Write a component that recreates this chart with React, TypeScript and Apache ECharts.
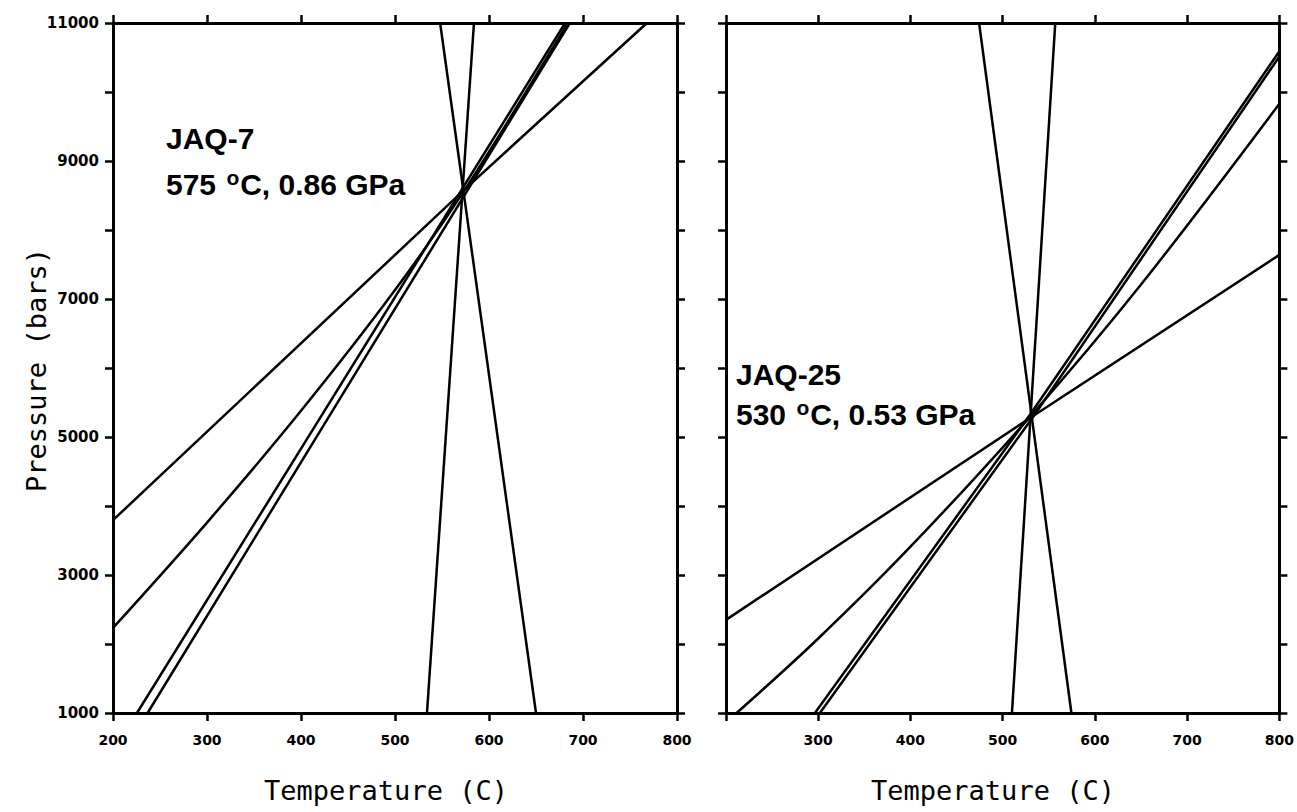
import React, { useEffect, useRef } from "react";
import * as echarts from "echarts";

// ---- Data (Temperature °C, Pressure bars) ----
const xTicks = [200, 300, 400, 500, 600, 700, 800];
const yTickLabels = [1000, 3000, 5000, 7000, 9000, 11000];

// Left panel: JAQ-7
const jaq7LineA = [[200, 3795], [575, 8600], [768, 11000]];
const jaq7LineB = [[200, 2233], [300, 3760], [400, 5380], [500, 7130], [575, 8600], [684, 11000]];
const jaq7LineC = [[225.5, 1000], [681, 11000]];
const jaq7LineD = [[236.8, 1000], [686, 11000]];
const jaq7LineE = [[534, 1000], [584, 11000]];
const jaq7LineF = [[650, 1000], [548, 11000]];

// Right panel: JAQ-25
const jaq25Line1 = [[200, 2350], [530, 5280], [800, 7640]];
const jaq25Line2 = [[211.5, 1000], [300, 2080], [400, 3410], [530, 5300], [650, 7210], [800, 9830]];
const jaq25Line3 = [[296.4, 1000], [530, 5330], [800, 10590]];
const jaq25Line4 = [[301.8, 1000], [535, 5330], [800, 10515]];
const jaq25Line5 = [[510, 1000], [557, 11000]];
const jaq25Line6 = [[574.5, 1000], [474.4, 11000]];

const leftLines = [jaq7LineA, jaq7LineB, jaq7LineC, jaq7LineD, jaq7LineE, jaq7LineF];
const rightLines = [jaq25Line1, jaq25Line2, jaq25Line3, jaq25Line4, jaq25Line5, jaq25Line6];
const curvedLines = [jaq7LineB, jaq25Line2];

const panelLabels = [
  { name: "JAQ-7", cond: "575 {s|o}C, 0.86 GPa" },
  { name: "JAQ-25", cond: "530 {s|o}C, 0.53 GPa" },
];

const BLACK = "#000";
const tickFont = "DejaVu Sans";

function makeAxes(g: number, showX200: boolean, showY: boolean) {
  const common = {
    gridIndex: g,
    type: "value" as const,
    splitLine: { show: false },
    axisLine: { show: true, onZero: false, lineStyle: { color: BLACK, width: 3 } },
    axisTick: { show: true, inside: false, length: 8, lineStyle: { color: BLACK, width: 2.5 } },
  };
  const xBottom = {
    ...common,
    position: "bottom",
    min: 200,
    max: 800,
    interval: 100,
    axisLabel: {
      show: true,
      margin: 20,
      color: BLACK,
      fontFamily: tickFont,
      fontWeight: "bold",
      fontSize: 14,
      formatter: (v: number) => (xTicks.includes(v) && (showX200 || v !== 200) ? String(v) : ""),
    },
  };
  const xTop = { ...common, position: "top", min: 200, max: 800, interval: 100, axisLabel: { show: false } };
  const yLeft = {
    ...common,
    position: "left",
    min: 1000,
    max: 11000,
    interval: 1000,
    axisLabel: {
      show: showY,
      margin: 14,
      color: BLACK,
      fontFamily: tickFont,
      fontWeight: "bold",
      fontSize: 15,
      formatter: (v: number) => (yTickLabels.includes(v) ? String(v) : ""),
    },
  };
  const yRight = { ...common, position: "right", min: 1000, max: 11000, interval: 1000, axisLabel: { show: false } };
  return { x: [xBottom, xTop], y: [yLeft, yRight] };
}

export default function App() {
  const ref = useRef<HTMLDivElement>(null);
  useEffect(() => {
    if (!ref.current) return;
    const chart = echarts.init(ref.current, undefined, { renderer: "svg" });
    const a0 = makeAxes(0, true, true);
    const a1 = makeAxes(1, false, false);
    const xAxis = [...a0.x, ...a1.x];
    const yAxis = [...a0.y, ...a1.y];
    const mk = (lines: number[][][], xi: number, yi: number) =>
      lines.map((d) => ({
        type: "line",
        xAxisIndex: xi,
        yAxisIndex: yi,
        data: d,
        showSymbol: false,
        symbol: "none",
        smooth: curvedLines.includes(d) ? 0.35 : false,
        lineStyle: { color: BLACK, width: 2.5 },
        silent: true,
      }));
    const series = [...mk(leftLines, 0, 0), ...mk(rightLines, 2, 2)];

    const labelText = (x: number, y: number, gap: number, name: string, cond: string) => [
      {
        type: "text",
        left: x,
        top: y,
        style: { text: name, font: "bold 30px 'Liberation Sans', Arial, sans-serif", fill: BLACK },
      },
      {
        type: "text",
        left: x,
        top: y + gap,
        style: {
          text: cond,
          font: "bold 30px 'Liberation Sans', Arial, sans-serif",
          fill: BLACK,
          rich: {
            s: { fontSize: 21, fontWeight: "bold", fontFamily: "Liberation Sans", verticalAlign: "top", lineHeight: 34, padding: [0, 1, 10, 2] },
          },
        },
      },
    ];

    chart.setOption({
      animation: false,
      backgroundColor: "#fff",
      grid: [
        { left: 113, top: 23, width: 564, height: 690 },
        { left: 726, top: 23, width: 560, height: 690 },
      ],
      xAxis,
      yAxis,
      series,
      graphic: [
        ...labelText(166, 123, 44, panelLabels[0].name, panelLabels[0].cond),
        ...labelText(736, 359, 38, panelLabels[1].name, panelLabels[1].cond),
        {
          type: "text",
          x: 36,
          y: 370,
          rotation: Math.PI / 2,
          style: {
            text: "Pressure (bars)",
            font: "27px 'DejaVu Sans Mono', monospace",
            fill: BLACK,
            align: "center",
            verticalAlign: "middle",
          },
        },
        {
          type: "text",
          x: 386,
          y: 790,
          style: {
            text: "Temperature (C)",
            font: "27px 'DejaVu Sans Mono', monospace",
            fill: BLACK,
            align: "center",
            verticalAlign: "middle",
          },
        },
        {
          type: "text",
          x: 993,
          y: 790,
          style: {
            text: "Temperature (C)",
            font: "27px 'DejaVu Sans Mono', monospace",
            fill: BLACK,
            align: "center",
            verticalAlign: "middle",
          },
        },
      ],
    });
    return () => chart.dispose();
  }, []);
  return (
    <div
      ref={ref}
      style={{ position: "fixed", left: 0, top: 0, width: 1297, height: 812, background: "#fff" }}
    />
  );
}
